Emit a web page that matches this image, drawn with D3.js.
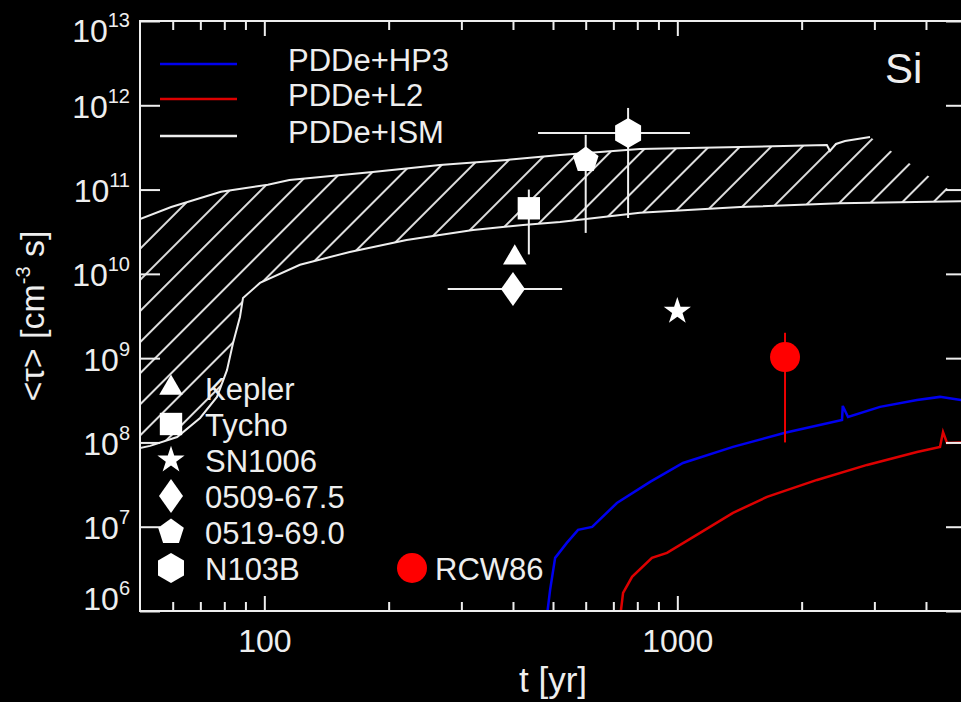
<!DOCTYPE html>
<html>
<head>
<meta charset="utf-8">
<script src="https://cdn.jsdelivr.net/npm/d3@7"></script>
<style>
  body { margin: 0; background: #000; }
  svg { display: block; background: #000; }
  text { font-family: "Liberation Sans", Arial, Helvetica, sans-serif; fill: #eee; }
</style>
</head>
<body>
<svg id="chart" width="961" height="702"></svg>
<script>
// PDDe+HP3 model (blue)
var hp3Age = [485, 492, 506, 540, 575, 622, 714, 859, 1032, 1364, 1823, 2505, 2515, 2590, 3096, 3805, 4325, 4860, 5000];
var hp3Tau = [1.0e6, 1.78e6, 4.27e6, 6.43e6, 9.17e6, 9.95e6, 1.91e7, 3.40e7, 5.71e7, 8.85e7, 1.30e8, 1.85e8, 2.71e8, 2.0e8, 2.64e8, 3.19e8, 3.47e8, 3.19e8, 3.1e8];

// PDDe+L2 model (red)
var l2Age = [730, 739, 777, 868, 944, 1135, 1364, 1649, 2179, 2880, 3805, 4325, 4399, 4497, 4860, 5000];
var l2Tau = [1.0e6, 1.64e6, 2.54e6, 4.27e6, 4.89e6, 8.44e6, 1.46e7, 2.26e7, 3.59e7, 5.41e7, 7.71e7, 8.85e7, 1.33e8, 9.86e7, 1.0e8, 1.0e8];

// PDDe+ISM band (upper and lower edge)
var ismUpAge = [50, 59.5, 78.5, 102, 115, 183, 266, 387, 520, 812, 1419, 2302, 2342, 2421, 2547, 2928];
var ismUpTau = [4.48e10, 6.2e10, 9.4e10, 1.14e11, 1.30e11, 1.62e11, 1.96e11, 2.25e11, 2.57e11, 3.03e11, 3.2e11, 3.38e11, 2.87e11, 3.48e11, 3.77e11, 4.2e11];
var ismLoAge = [50, 52.9, 61.5, 69.9, 76.8, 81.2, 84.0, 87.3, 88.8, 97.6, 122, 161, 221, 320, 423, 520, 812, 1419, 2477, 5000];
var ismLoTau = [8.6e7, 9.1e7, 1.16e8, 1.95e8, 3.47e8, 7.2e8, 1.51e9, 3.08e9, 5.18e9, 7.8e9, 1.28e10, 1.82e10, 2.52e10, 3.32e10, 3.8e10, 4.13e10, 5.3e10, 6.2e10, 6.9e10, 7.3e10];

// observed remnants
var snrName  = ["Kepler", "Tycho", "SN1006", "0509-67.5", "0519-69.0", "N103B"];
var snrShape = ["triangle", "square", "star", "diamond", "pentagon", "hexagon"];
var snrAge   = [404, 437, 1000, 400, 600, 760];
var snrTau   = [1.55e10, 6.0e10, 3.6e9, 6.6e9, 2.24e11, 4.7e11];
var snrTauLo = [null, 1.7e10, null, null, 3.06e10, 4.6e10];
var snrTauHi = [null, 1.0e11, null, null, 4.45e11, 9.3e11];
var snrAgeLo = [null, null, null, 278, null, 460];
var snrAgeHi = [null, null, null, 526, null, 1073];

// RCW86 (red point)
var rcwName = "RCW86";
var rcwAge = 1823, rcwTau = 1.03e9, rcwTauLo = 1.0e8, rcwTauHi = 2.0e9;

// axes ticks
var xMajor = [100, 1000];
var xMinor = [60, 70, 80, 90, 200, 300, 400, 500, 600, 700, 800, 900, 2000, 3000, 4000];
var yMajor = [1e6, 1e7, 1e8, 1e9, 1e10, 1e11, 1e12, 1e13];

var modelNames = ["PDDe+HP3", "PDDe+L2", "PDDe+ISM"];
var modelColors = ["#0000ee", "#dd0000", "#eeeeee"];

// plot area
var box = {left: 140, right: 966, top: 21, bottom: 611};

var svg = d3.select("#chart");

var x = d3.scaleLog().domain([50, 5000]).range([box.left, box.right]);
var y = d3.scaleLog().domain([1e6, 1e13]).range([box.bottom, box.top]);

var defs = svg.append("defs");
defs.append("clipPath").attr("id", "plotclip")
  .append("rect")
    .attr("x", box.left).attr("y", box.top)
    .attr("width", box.right - box.left).attr("height", box.bottom - box.top);

// hatch pattern
var hatch = defs.append("pattern")
  .attr("id", "hatch")
  .attr("patternUnits", "userSpaceOnUse")
  .attr("width", 22).attr("height", 22)
  .attr("patternTransform", "rotate(45)");
hatch.append("line")
  .attr("x1", 11).attr("y1", -2).attr("x2", 11).attr("y2", 24)
  .attr("stroke", "#dddddd").attr("stroke-width", 2);

var plot = svg.append("g").attr("clip-path", "url(#plotclip)");

function pts(ages, taus) {
  return ages.map(function(a, i) { return [x(a), y(taus[i])]; });
}

var line = d3.line().x(function(d) { return d[0]; }).y(function(d) { return d[1]; });

// hatched ISM band
var upPts = pts(ismUpAge, ismUpTau);
var loPts = pts(ismLoAge, ismLoTau);
plot.append("path")
  .attr("d", line(upPts.concat(loPts.slice().reverse())) + "Z")
  .attr("fill", "url(#hatch)")
  .attr("stroke", "none");
plot.append("path").attr("d", line(upPts))
  .attr("fill", "none").attr("stroke", "#eeeeee").attr("stroke-width", 2);
plot.append("path").attr("d", line(loPts))
  .attr("fill", "none").attr("stroke", "#eeeeee").attr("stroke-width", 2);

// model curves
plot.append("path").attr("d", line(pts(hp3Age, hp3Tau)))
  .attr("fill", "none").attr("stroke", modelColors[0]).attr("stroke-width", 2.5);
plot.append("path").attr("d", line(pts(l2Age, l2Tau)))
  .attr("fill", "none").attr("stroke", modelColors[1]).attr("stroke-width", 2.5);

// marker shapes
function polygon(n, r, rot) {
  var p = d3.path();
  for (var i = 0; i < n; i++) {
    var a = rot + i * 2 * Math.PI / n;
    var px = r * Math.sin(a), py = -r * Math.cos(a);
    if (i === 0) p.moveTo(px, py); else p.lineTo(px, py);
  }
  p.closePath();
  return p.toString();
}
function shapePath(kind) {
  if (kind === "triangle") return d3.symbol().type(d3.symbolTriangle).size(240)();
  if (kind === "square") return d3.symbol().type(d3.symbolSquare).size(500)();
  if (kind === "star") return d3.symbol().type(d3.symbolStar).size(230)();
  if (kind === "diamond") return "M0,-17L12,0L0,17L-12,0Z";
  if (kind === "pentagon") return polygon(5, 13.5, 0);
  if (kind === "hexagon") return polygon(6, 15, 0);
}

// error bars
var bars = plot.append("g").attr("stroke", "#eeeeee").attr("stroke-width", 2);
snrAge.forEach(function(a, i) {
  if (snrTauLo[i] != null) {
    bars.append("line")
      .attr("x1", x(a)).attr("x2", x(a))
      .attr("y1", y(snrTauLo[i])).attr("y2", y(snrTauHi[i]));
  }
  if (snrAgeLo[i] != null) {
    bars.append("line")
      .attr("x1", x(snrAgeLo[i])).attr("x2", x(snrAgeHi[i]))
      .attr("y1", y(snrTau[i])).attr("y2", y(snrTau[i]));
  }
});

// data markers
snrAge.forEach(function(a, i) {
  plot.append("path")
    .attr("d", shapePath(snrShape[i]))
    .attr("transform", "translate(" + x(a) + "," + y(snrTau[i]) + ")")
    .attr("fill", "#ffffff");
});

plot.append("line")
  .attr("x1", x(rcwAge)).attr("x2", x(rcwAge))
  .attr("y1", y(rcwTauLo)).attr("y2", y(rcwTauHi))
  .attr("stroke", "#ee0000").attr("stroke-width", 2);
plot.append("circle")
  .attr("cx", x(rcwAge)).attr("cy", y(rcwTau)).attr("r", 15)
  .attr("fill", "#ff0000");

// axes
function styleAxis(g) {
  g.select(".domain").remove();
  g.attr("color", "#eeeeee");
  g.selectAll("line").attr("stroke-width", 2);
}

svg.append("g")
  .attr("transform", "translate(0," + box.bottom + ")")
  .call(d3.axisBottom(x).tickValues(xMajor).tickSize(-15).tickPadding(18).tickFormat(d3.format("d")))
  .call(styleAxis)
  .selectAll("text").style("font-size", "32px").style("fill", "#eeeeee");
svg.append("g")
  .attr("transform", "translate(0," + box.bottom + ")")
  .call(d3.axisBottom(x).tickValues(xMinor).tickSize(-9).tickFormat(""))
  .call(styleAxis);
svg.append("g")
  .attr("transform", "translate(0," + box.top + ")")
  .call(d3.axisTop(x).tickValues(xMajor).tickSize(-15).tickFormat(""))
  .call(styleAxis);
svg.append("g")
  .attr("transform", "translate(0," + box.top + ")")
  .call(d3.axisTop(x).tickValues(xMinor).tickSize(-9).tickFormat(""))
  .call(styleAxis);

var yAx = svg.append("g")
  .attr("transform", "translate(" + box.left + ",0)")
  .call(d3.axisLeft(y).tickValues(yMajor).tickSize(-20).tickPadding(10))
  .call(styleAxis);
yAx.selectAll("text").each(function(d) {
  var t = d3.select(this);
  var e = Math.round(Math.log10(d));
  var shift = e === 13 ? 8 : (e === 6 ? -14 : 0);
  t.text(null)
    .attr("dy", 12 + shift)
    .attr("text-anchor", "end")
    .style("fill", "#eeeeee");
  t.append("tspan").style("font-size", "32px").text("10");
  t.append("tspan").style("font-size", "20px").attr("dy", -15).text(e);
});
svg.append("g")
  .attr("transform", "translate(" + box.right + ",0)")
  .call(d3.axisRight(y).tickValues(yMajor).tickSize(-20).tickFormat(""))
  .call(styleAxis);

// frame
svg.append("rect")
  .attr("x", box.left).attr("y", box.top)
  .attr("width", box.right - box.left).attr("height", box.bottom - box.top)
  .attr("fill", "none").attr("stroke", "#eeeeee").attr("stroke-width", 2);

// axis titles
svg.append("text")
  .attr("x", 553).attr("y", 692)
  .attr("text-anchor", "middle")
  .style("font-size", "35px")
  .text("t [yr]");

var yTitle = svg.append("text")
  .attr("transform", "translate(44,316) rotate(-90)")
  .attr("text-anchor", "middle")
  .style("font-size", "34px");
yTitle.append("tspan").text("<\u03C4> [cm");
yTitle.append("tspan").style("font-size", "20px").attr("dy", -14).text("-3");
yTitle.append("tspan").attr("dy", 14).text(" s]");

// element label
svg.append("text")
  .attr("x", 885).attr("y", 83)
  .style("font-size", "42px")
  .text("Si");

// model legend
var legY = [64, 99, 136];
modelNames.forEach(function(name, i) {
  svg.append("line")
    .attr("x1", 160).attr("x2", 237)
    .attr("y1", legY[i]).attr("y2", legY[i])
    .attr("stroke", modelColors[i]).attr("stroke-width", 2.5);
  svg.append("text")
    .attr("x", 288).attr("y", legY[i] + 7)
    .style("font-size", "31px")
    .text(name);
});

// remnant legend
snrName.forEach(function(name, i) {
  var ly = 388 + i * 36;
  svg.append("path")
    .attr("d", shapePath(snrShape[i]))
    .attr("transform", "translate(171," + ly + ")")
    .attr("fill", "#ffffff");
  svg.append("text")
    .attr("x", 205).attr("y", ly + 12)
    .style("font-size", "31px")
    .text(name);
});
svg.append("circle")
  .attr("cx", 412).attr("cy", 568).attr("r", 15)
  .attr("fill", "#ff0000");
svg.append("text")
  .attr("x", 435).attr("y", 580)
  .style("font-size", "31px")
  .text(rcwName);
</script>
</body>
</html>
